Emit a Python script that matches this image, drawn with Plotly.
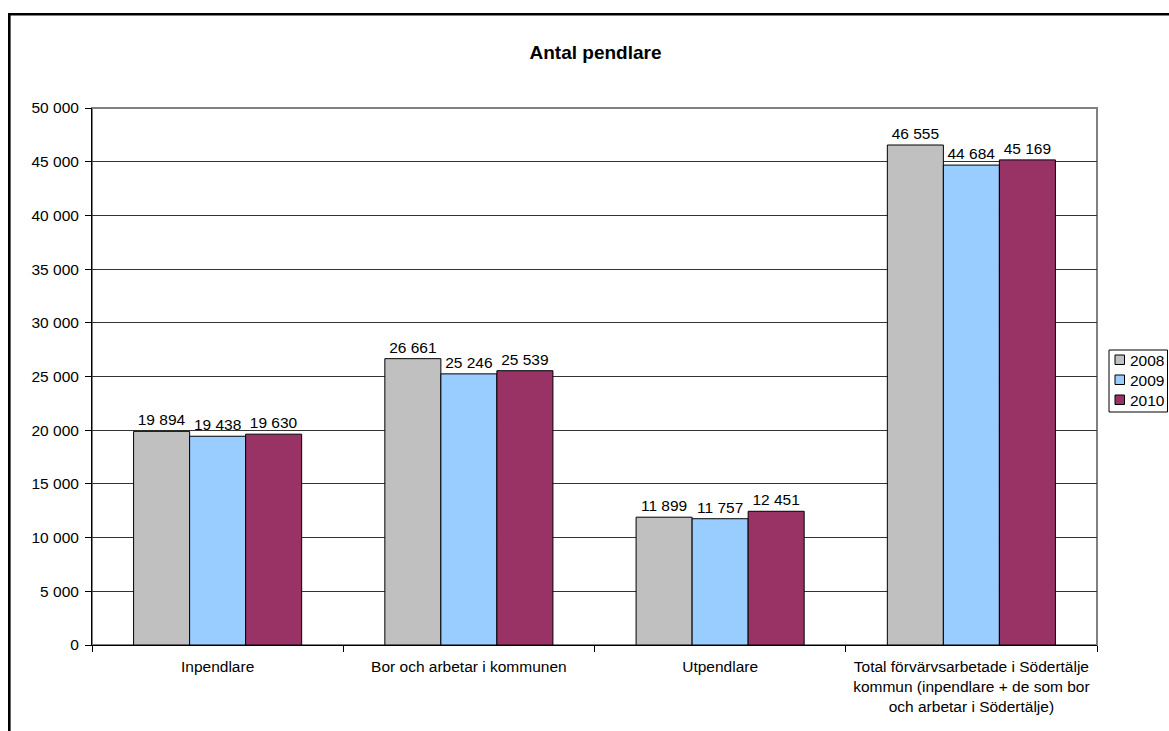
import plotly.graph_objects as go

categories = [
    "Inpendlare",
    "Bor och arbetar i kommunen",
    "Utpendlare",
    "Total förvärvsarbetade i Södertälje<br>kommun (inpendlare + de som bor<br>och arbetar i Södertälje)",
]
years = ["2008", "2009", "2010"]
values_2008 = [19894, 26661, 11899, 46555]
values_2009 = [19438, 25246, 11757, 44684]
values_2010 = [19630, 25539, 12451, 45169]
colors = ["#C0C0C0", "#99CCFF", "#993366"]

FONT = "Arial, Liberation Sans, sans-serif"
FS = 15.5
W, H = 1169, 731
L, R, T, B = 92, 72, 108, 86
pw = W - L - R
ph = H - T - B

fig = go.Figure()
for name, vals, col in zip(years, [values_2008, values_2009, values_2010], colors):
    fig.add_trace(go.Bar(
        name=name, x=categories, y=vals,
        marker=dict(color=col, line=dict(color="black", width=1)),
        texttemplate="%{y:,}", textposition="outside",
        textfont=dict(family=FONT, size=FS, color="black"),
        cliponaxis=False, showlegend=False,
    ))

def px_x(p):
    return (p - L) / pw

def px_y(p):
    return (H - B - p) / ph

shapes = [
    # outer chart border (extends beyond viewport on right and bottom)
    dict(type="rect", xref="paper", yref="paper",
         x0=px_x(9.3), x1=px_x(1250), y0=px_y(800), y1=px_y(14.2),
         line=dict(color="black", width=2.6), layer="below"),
    # plot area border (gray)
    dict(type="rect", xref="paper", yref="paper",
         x0=0, x1=1, y0=0, y1=1,
         line=dict(color="#808080", width=2), layer="below"),
    # legend box
    dict(type="rect", xref="paper", yref="paper",
         x0=px_x(1109), x1=px_x(1167.5), y0=px_y(412), y1=px_y(350),
         line=dict(color="black", width=1), fillcolor="white", layer="above"),
]
annotations = []
row_y = [360, 380, 400]
for name, col, ry in zip(years, colors, row_y):
    shapes.append(dict(type="rect", xref="paper", yref="paper",
                       x0=px_x(1115), x1=px_x(1124.5),
                       y0=px_y(ry + 4.5), y1=px_y(ry - 5),
                       line=dict(color="black", width=1), fillcolor=col,
                       layer="above"))
    annotations.append(dict(text=name, xref="paper", yref="paper",
                            x=px_x(1127.5), y=px_y(ry), xanchor="left",
                            yanchor="middle", showarrow=False,
                            font=dict(family=FONT, size=FS, color="black")))

fig.update_layout(
    width=W, height=H,
    margin=dict(l=L, r=R, t=T, b=B, autoexpand=False),
    paper_bgcolor="white", plot_bgcolor="white",
    separators=", ",
    barmode="group",
    bargap=0.331, bargroupgap=0,
    font=dict(family=FONT, size=FS, color="black"),
    title=dict(text="<b>Antal pendlare</b>", x=595.5 / W, xanchor="center",
               y=1 - 52 / H, yanchor="middle",
               font=dict(family=FONT, size=19, color="black")),
    shapes=shapes,
    annotations=annotations,
    showlegend=False,
)
fig.update_xaxes(
    showline=True, linecolor="black", linewidth=1,
    ticks="outside", tickson="boundaries", ticklen=6, tickcolor="black",
    tickfont=dict(family=FONT, size=FS, color="black"),
    ticklabelstandoff=7,
    showgrid=False,
)
fig.update_yaxes(
    range=[0, 50000], dtick=5000, tickformat=",d",
    showline=True, linecolor="black", linewidth=1,
    ticks="outside", ticklen=6, tickcolor="black",
    tickfont=dict(family=FONT, size=FS, color="black"),
    ticklabelstandoff=3,
    showgrid=True, gridcolor="#333333", gridwidth=1,
    zeroline=False,
)

fig.write_html(
    "out.html",
    config={"displayModeBar": False},
    post_script="document.body.style.margin='0';document.body.style.overflow='hidden';",
)
